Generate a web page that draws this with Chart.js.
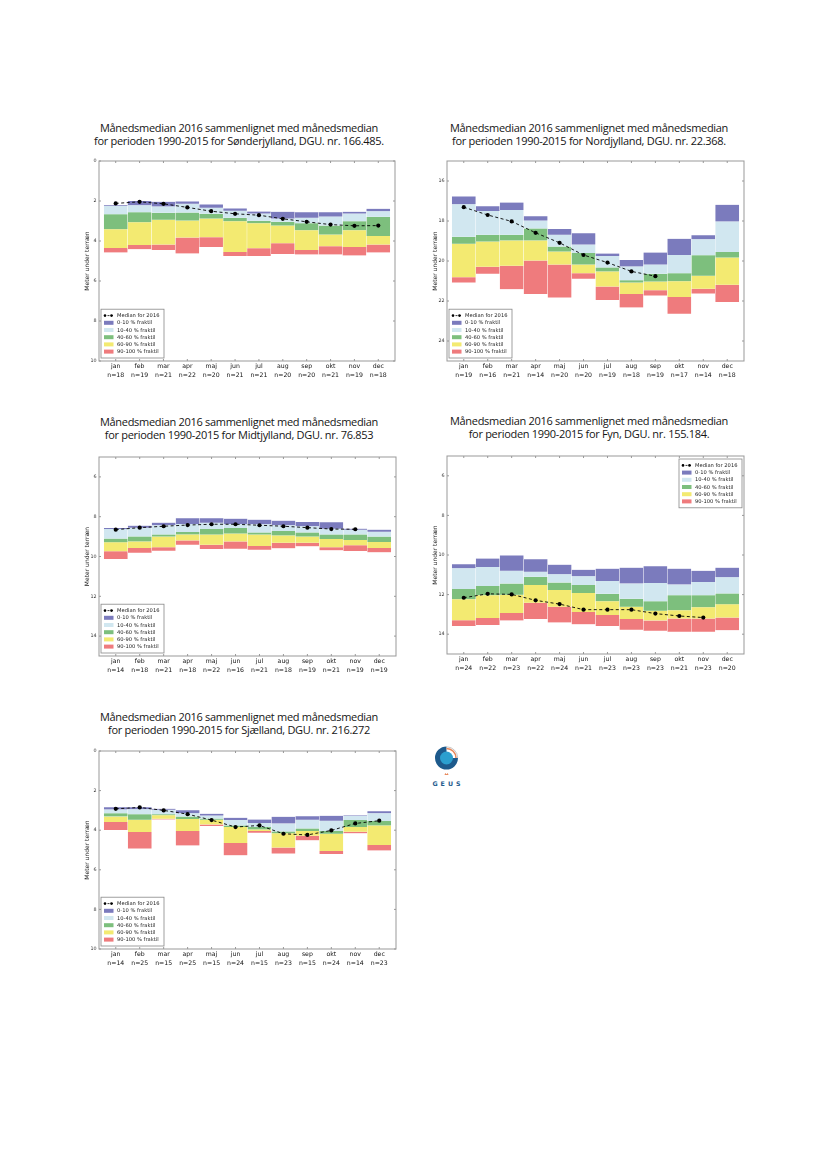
<!DOCTYPE html>
<html lang="da">
<head>
<meta charset="UTF-8">
<title>Månedsmedian 2016</title>
<script src="https://cdn.jsdelivr.net/npm/chart.js"></script>
<style>
  body { margin: 0; background: #fff; width: 827px; height: 1169px; position: relative; overflow: hidden; }
  .title {
    position: absolute; width: 400px; text-align: center;
    font-family: 'Open Sans', sans-serif; font-size: 11px; line-height: 13.3px;
    letter-spacing: -0.3px; color: #151515; white-space: nowrap;
  }
  canvas { position: absolute; }
  svg { position: absolute; }
</style>
</head>
<body>

<div class="title" style="left:39px; top:121px">Månedsmedian 2016 sammenlignet med månedsmedian<br>for perioden 1990-2015 for Sønderjylland, DGU. nr. 166.485.</div>
<div class="title" style="left:389px; top:121px">Månedsmedian 2016 sammenlignet med månedsmedian<br>for perioden 1990-2015 for Nordjylland, DGU. nr. 22.368.</div>
<div class="title" style="left:39px; top:415px">Månedsmedian 2016 sammenlignet med månedsmedian<br>for perioden 1990-2015 for Midtjylland, DGU. nr. 76.853</div>
<div class="title" style="left:389px; top:414px">Månedsmedian 2016 sammenlignet med månedsmedian<br>for perioden 1990-2015 for Fyn, DGU. nr. 155.184.</div>
<div class="title" style="left:39px; top:710px">Månedsmedian 2016 sammenlignet med månedsmedian<br>for perioden 1990-2015 for Sjælland, DGU. nr. 216.272</div>

<canvas id="son" width="332" height="232" style="left:69px; top:155px"></canvas>
<canvas id="nor" width="333" height="232" style="left:417px; top:155px"></canvas>
<canvas id="mid" width="333" height="231" style="left:69px; top:451px"></canvas>
<canvas id="fyn" width="333" height="230" style="left:417px; top:450px"></canvas>
<canvas id="sja" width="333" height="230" style="left:69px; top:745px"></canvas>

<svg width="40" height="50" viewBox="0 0 40 50" style="left:427px; top:740px">
  <path d="M19.5 6.5 L19.5 18 L31 18 A11.5 11.5 0 1 1 19.5 6.5 Z" fill="#1d5a8c"/>
  <circle cx="19.5" cy="18" r="6.5" fill="#2b9fcf"/>
  <path d="M19.5 8.5 A9.5 9.5 0 0 1 29 18" fill="none" stroke="#e8895c" stroke-width="1.6"/>
  <path d="M19.5 6.8 A11.2 11.2 0 0 1 30.7 18" fill="none" stroke="#b9b9b9" stroke-width="0.8"/>
  <path d="M17.5 35 L18.2 33 L19.5 34.3 L20.8 33 L21.5 35 Z" fill="#e8895c"/>
  <text x="21" y="45.5" text-anchor="middle" font-family="DejaVu Sans, sans-serif" font-size="6.3" font-weight="bold" letter-spacing="3" fill="#1d5a8c">GEUS</text>
</svg>

<script>
const months = ['jan', 'feb', 'mar', 'apr', 'maj', 'jun', 'jul', 'aug', 'sep', 'okt', 'nov', 'dec'];
const bandLabels = ['0-10 % fraktil', '10-40 % fraktil', '40-60 % fraktil', '60-90 % fraktil', '90-100 % fraktil'];
const bandColors = ['#7b7bbd', '#d1e7f0', '#7dbf7d', '#f3ea71', '#ef7b7d'];

// Sønderjylland, DGU 166.485 (meter under terræn)
const sonN      = [18, 19, 21, 22, 20, 21, 21, 20, 20, 21, 19, 18];
const sonMedian = [2.12, 2.04, 2.14, 2.32, 2.51, 2.64, 2.71, 2.89, 3.04, 3.18, 3.24, 3.23];
const sonP0     = [2.21, 2.00, 2.04, 2.02, 2.17, 2.37, 2.53, 2.54, 2.56, 2.56, 2.54, 2.39];
const sonP10    = [2.25, 2.21, 2.27, 2.14, 2.34, 2.49, 2.63, 2.88, 2.84, 2.78, 2.63, 2.51];
const sonP40    = [2.66, 2.56, 2.59, 2.58, 2.64, 2.84, 2.99, 3.04, 3.11, 3.23, 3.01, 2.79];
const sonP60    = [3.41, 3.06, 2.94, 2.98, 2.88, 3.01, 3.11, 3.23, 3.46, 3.68, 3.46, 3.75];
const sonP90    = [4.35, 4.20, 4.18, 3.83, 3.81, 4.55, 4.36, 4.11, 4.45, 4.26, 4.30, 4.18];
const sonP100   = [4.57, 4.41, 4.45, 4.62, 4.30, 4.75, 4.75, 4.65, 4.67, 4.67, 4.72, 4.57];

// Nordjylland, DGU 22.368
const norN      = [19, 16, 21, 14, 20, 20, 19, 18, 19, 17, 14, 18];
const norMedian = [17.31, 17.70, 18.02, 18.59, 19.09, 19.70, 20.08, 20.52, 20.76, null, null, null];
const norP0     = [16.77, 17.26, 17.08, 17.76, 18.40, 18.61, 19.63, 19.95, 19.58, 18.89, 18.71, 17.19];
const norP10    = [17.16, 17.50, 17.45, 17.98, 18.69, 19.18, 19.75, 20.27, 20.18, 19.70, 18.91, 18.02];
const norP40    = [18.79, 18.69, 18.69, 18.37, 19.28, 19.60, 20.32, 20.96, 20.64, 20.61, 19.71, 19.55];
const norP60    = [19.14, 19.03, 18.97, 18.97, 19.53, 20.18, 20.52, 21.08, 21.03, 21.01, 20.74, 19.83];
const norP90    = [20.81, 20.29, 20.24, 19.98, 20.18, 20.61, 21.28, 21.65, 21.46, 21.80, 21.39, 21.19];
const norP100   = [21.08, 20.64, 21.41, 21.65, 21.83, 20.89, 21.95, 22.32, 21.73, 22.64, 21.63, 22.05];

// Midtjylland, DGU 76.853
const midN      = [14, 18, 21, 18, 22, 16, 21, 18, 19, 21, 19, 19];
const midMedian = [8.65, 8.55, 8.48, 8.42, 8.38, 8.38, 8.43, 8.48, 8.55, 8.62, 8.63, null];
const midP0     = [8.57, 8.45, 8.30, 8.08, 8.08, 8.10, 8.15, 8.20, 8.27, 8.28, 8.60, 8.65];
const midP10    = [8.62, 8.55, 8.43, 8.37, 8.30, 8.37, 8.38, 8.43, 8.48, 8.60, 8.65, 8.75];
const midP40    = [9.10, 8.99, 8.89, 8.77, 8.62, 8.57, 8.79, 8.72, 8.79, 8.89, 8.89, 9.00];
const midP60    = [9.29, 9.24, 9.00, 8.89, 8.90, 8.85, 8.90, 8.94, 9.00, 9.12, 9.17, 9.27];
const midP90    = [9.74, 9.57, 9.54, 9.19, 9.41, 9.24, 9.47, 9.31, 9.31, 9.54, 9.44, 9.57];
const midP100   = [10.13, 9.81, 9.71, 9.41, 9.62, 9.61, 9.66, 9.59, 9.49, 9.69, 9.72, 9.79];

// Fyn, DGU 155.184
const fynN      = [24, 22, 23, 22, 24, 21, 23, 23, 23, 21, 23, 20];
const fynMedian = [12.16, 11.96, 11.99, 12.29, 12.48, 12.76, 12.76, 12.76, 12.96, 13.08, 13.16, null];
const fynP0     = [10.47, 10.18, 10.02, 10.22, 10.49, 10.75, 10.69, 10.64, 10.57, 10.69, 10.80, 10.64];
const fynP10    = [10.67, 10.60, 10.79, 10.85, 10.97, 11.07, 11.31, 11.44, 11.42, 11.49, 11.36, 11.12];
const fynP40    = [11.72, 11.56, 11.44, 11.10, 11.39, 11.51, 11.96, 12.21, 12.34, 12.03, 12.03, 11.94];
const fynP60    = [12.23, 12.03, 12.01, 11.52, 11.77, 11.92, 12.33, 12.61, 12.81, 12.79, 12.64, 12.49];
const fynP90    = [13.30, 13.18, 12.93, 12.41, 12.61, 12.88, 13.03, 13.23, 13.31, 13.21, 13.21, 13.16];
const fynP100   = [13.58, 13.53, 13.31, 13.23, 13.41, 13.50, 13.58, 13.77, 13.82, 13.88, 13.88, 13.80];

// Sjælland, DGU 216.272
const sjaN      = [14, 25, 15, 25, 15, 24, 15, 23, 15, 24, 14, 23];
const sjaMedian = [2.92, 2.85, 3.00, 3.19, 3.49, 3.84, 3.76, 4.18, 4.24, 4.01, 3.66, 3.52];
const sjaP0     = [2.84, 2.84, 2.92, 2.99, 3.17, 3.37, 3.46, 3.32, 3.29, 3.27, 3.24, 3.04];
const sjaP10    = [2.95, 2.94, 2.97, 3.14, 3.26, 3.49, 3.64, 3.66, 3.47, 3.52, 3.27, 3.14];
const sjaP40    = [3.15, 3.19, 3.19, 3.31, 3.41, 3.76, 3.84, 4.06, 3.91, 4.04, 3.49, 3.54];
const sjaP60    = [3.31, 3.47, 3.24, 3.44, 3.47, 3.84, 3.96, 4.16, 4.04, 4.18, 3.84, 3.76];
const sjaP90    = [3.59, 4.09, 3.42, 4.04, 3.71, 4.65, 4.04, 4.88, 4.28, 5.05, 4.08, 4.75];
const sjaP100   = [3.99, 4.93, 3.46, 4.77, 3.79, 5.27, 4.13, 5.18, 4.51, 5.20, 4.16, 5.02];

const FONT = "'DejaVu Sans', sans-serif";

// frame round the plot with small inward ticks, like the matplotlib original
const framePlugin = {
  id: 'frame',
  afterDraw(chart) {
    const {ctx, chartArea: a, scales} = chart;
    ctx.save();
    ctx.strokeStyle = '#999';
    ctx.lineWidth = 1;
    ctx.strokeRect(a.left, a.top, a.right - a.left, a.bottom - a.top);
    ctx.beginPath();
    scales.x.ticks.forEach(t => {
      const px = scales.x.getPixelForValue(t.value);
      ctx.moveTo(px, a.top); ctx.lineTo(px, a.top + 2);
      ctx.moveTo(px, a.bottom); ctx.lineTo(px, a.bottom - 2);
    });
    scales.y.ticks.forEach(t => {
      const py = scales.y.getPixelForValue(t.value);
      ctx.moveTo(a.left, py); ctx.lineTo(a.left + 2, py);
      ctx.moveTo(a.right, py); ctx.lineTo(a.right - 2, py);
    });
    ctx.stroke();
    ctx.restore();
  }
};

// legend drawn inside the plot area
const boxLegendPlugin = {
  id: 'boxLegend',
  afterDraw(chart, args, opts) {
    const {ctx, chartArea: a} = chart;
    const sets = chart.data.datasets;
    const w = 63, rowH = 7.2, pad = 2.8;
    const h = rowH * sets.length + pad * 2;
    const x = opts.corner === 'tr' ? a.right - w - 2 : a.left + 2;
    const y = opts.corner === 'tr' ? a.top + 3 : a.bottom - h - 3;
    ctx.save();
    ctx.fillStyle = 'rgba(255,255,255,0.92)';
    ctx.fillRect(x, y, w, h);
    ctx.strokeStyle = '#888';
    ctx.lineWidth = 0.8;
    ctx.strokeRect(x, y, w, h);
    ctx.font = '5.2px ' + FONT;
    ctx.textBaseline = 'middle';
    sets.forEach((ds, i) => {
      const cy = y + pad + rowH * (i + 0.5);
      if (ds.type === 'line') {
        ctx.strokeStyle = '#000';
        ctx.lineWidth = 0.8;
        ctx.setLineDash([2, 1.5]);
        ctx.beginPath(); ctx.moveTo(x + 3, cy); ctx.lineTo(x + 12, cy); ctx.stroke();
        ctx.setLineDash([]);
        ctx.fillStyle = '#000';
        [x + 4, x + 10.5].forEach(px => { ctx.beginPath(); ctx.arc(px, cy, 1.3, 0, Math.PI * 2); ctx.fill(); });
      } else {
        ctx.fillStyle = ds.backgroundColor;
        ctx.fillRect(x + 3, cy - 2, 9.5, 4);
      }
      ctx.fillStyle = '#222';
      ctx.fillText(ds.label, x + 16, cy + 0.3);
    });
    ctx.restore();
  }
};

function drawPanel(id, n, median, p0, p10, p40, p60, p90, p100, yMin, yMax, corner) {
  const edges = [p0, p10, p40, p60, p90, p100];
  const datasets = [{
    type: 'line',
    label: 'Median for 2016',
    data: months.map((m, i) => ({x: i, y: median[i]})),
    borderColor: '#000',
    borderWidth: 0.9,
    borderDash: [3, 2.5],
    pointRadius: 2.1,
    pointBackgroundColor: '#000',
    pointBorderWidth: 0,
    fill: false,
    tension: 0,
    spanGaps: false,
    order: 0
  }];
  bandLabels.forEach((lab, b) => {
    datasets.push({
      type: 'bar',
      label: lab,
      data: months.map((m, i) => ({x: i, y: [edges[b][i], edges[b + 1][i]]})),
      backgroundColor: bandColors[b],
      borderColor: 'rgba(255,255,255,0.55)',
      borderWidth: {left: 0.5, right: 0.5, top: 0, bottom: 0},
      borderSkipped: false,
      barPercentage: 1,
      categoryPercentage: 1,
      grouped: false,
      order: 1
    });
  });

  new Chart(document.getElementById(id), {
    type: 'bar',
    data: {datasets},
    plugins: [framePlugin, boxLegendPlugin],
    options: {
      responsive: false,
      animation: false,
      layout: {padding: {top: 6, right: 6, left: 0, bottom: 0}},
      plugins: {
        legend: {display: false},
        tooltip: {enabled: false},
        boxLegend: {corner: corner}
      },
      scales: {
        x: {
          type: 'linear',
          min: -0.7,
          max: 11.7,
          offset: false,
          grid: {display: false, drawTicks: false},
          border: {display: false},
          afterFit: s => { s.height = 26; },
          afterBuildTicks: s => { s.ticks = s.ticks.filter(t => Number.isInteger(t.value) && t.value >= 0 && t.value < 12); },
          ticks: {
            stepSize: 1,
            includeBounds: false,
            autoSkip: false,
            maxRotation: 0,
            padding: 1.5,
            color: '#111',
            font: {family: FONT, size: 6.2, lineHeight: 1.4},
            callback: v => [months[v], 'n=' + n[v]]
          }
        },
        y: {
          reverse: true,
          min: yMin,
          max: yMax,
          grid: {display: false, drawTicks: false},
          border: {display: false},
          afterFit: s => { s.width = 30; },
          afterBuildTicks: s => { s.ticks = s.ticks.filter(t => t.value % 2 === 0); },
          ticks: {
            stepSize: 1,
            includeBounds: false,
            autoSkip: false,
            padding: 2.5,
            color: '#333',
            font: {family: FONT, size: 4.8}
          },
          title: {
            display: true,
            text: 'Meter under terræn',
            color: '#222',
            font: {family: FONT, size: 6},
            padding: {top: 14.5, bottom: 0}
          }
        }
      }
    }
  });
}

drawPanel('son', sonN, sonMedian, sonP0, sonP10, sonP40, sonP60, sonP90, sonP100, 0, 10, 'bl');
drawPanel('nor', norN, norMedian, norP0, norP10, norP40, norP60, norP90, norP100, 15, 25, 'bl');
drawPanel('mid', midN, midMedian, midP0, midP10, midP40, midP60, midP90, midP100, 5, 15, 'bl');
drawPanel('fyn', fynN, fynMedian, fynP0, fynP10, fynP40, fynP60, fynP90, fynP100, 5, 15, 'tr');
drawPanel('sja', sjaN, sjaMedian, sjaP0, sjaP10, sjaP40, sjaP60, sjaP90, sjaP100, 0, 10, 'bl');
</script>
</body>
</html>
